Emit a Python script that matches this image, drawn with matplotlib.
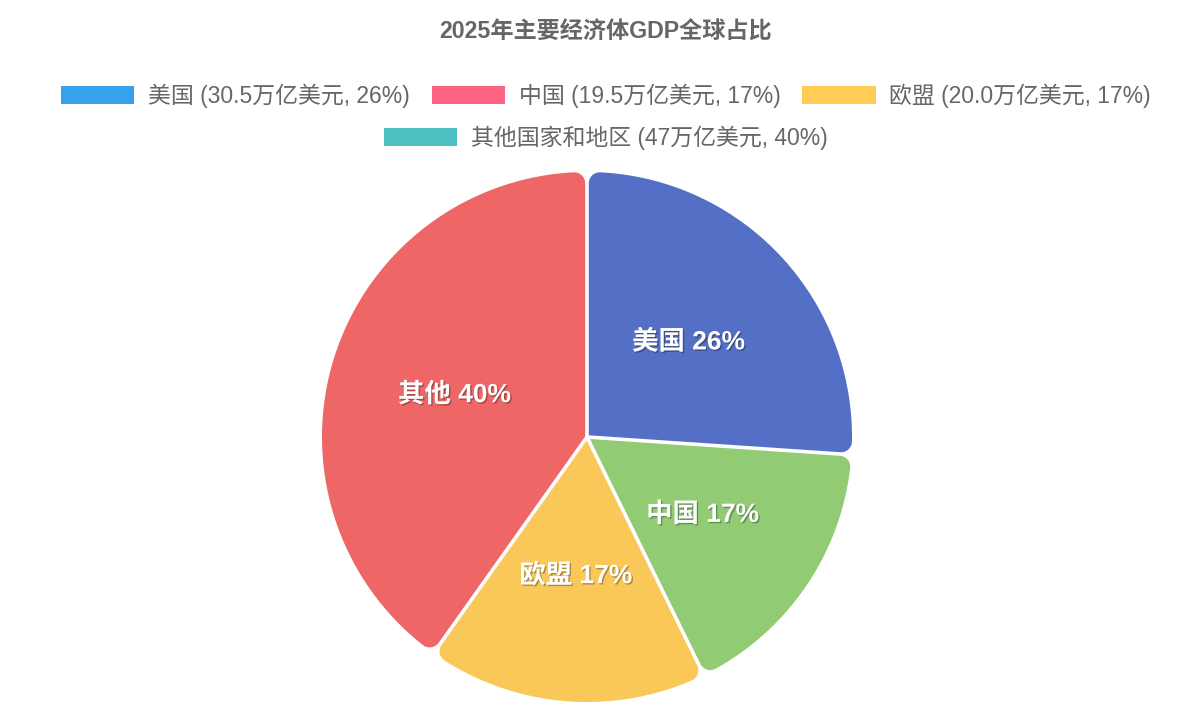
import numpy as np
import matplotlib
matplotlib.use("Agg")
import matplotlib.pyplot as plt
from matplotlib.patches import Polygon, Patch
import matplotlib.patheffects as pe

plt.rcParams['font.family'] = ['Liberation Sans', 'Noto Sans CJK SC', 'DejaVu Sans']

# ---- data ----
title = "2025年主要经济体GDP全球占比"
names = ["美国", "中国", "欧盟", "其他国家和地区"]
short_names = ["美国", "中国", "欧盟", "其他"]
values = [30.5, 19.5, 20.0, 47]          # 万亿美元
legend_pcts = [26, 17, 17, 40]
slice_colors = ["#5470c6", "#91cc75", "#fac858", "#ee6666"]
legend_colors = ["#36a2eb", "#ff6384", "#ffcd56", "#4bc0c0"]
legend_labels = ["美国 (30.5万亿美元, 26%)", "中国 (19.5万亿美元, 17%)",
                 "欧盟 (20.0万亿美元, 17%)", "其他国家和地区 (47万亿美元, 40%)"]

W, H = 1200, 704
fig = plt.figure(figsize=(W / 100, H / 100), dpi=100)
ax = fig.add_axes([0, 0, 1, 1])
ax.set_xlim(0, W)
ax.set_ylim(0, H)
ax.set_aspect('equal')
ax.axis('off')

C = np.array([587.0, 704 - 437.0])
R = 265.0
h = 1.8     # half gap
k = 11.0    # corner radius


def rounded_wedge(t1, t2):
    """t1 < t2 in radians (ccw)."""
    phi = t2 - t1
    mid = (t1 + t2) / 2
    apex = np.array([np.cos(mid), np.sin(mid)]) * h / np.sin(phi / 2)
    t = np.sqrt((R - k) ** 2 - (h + k) ** 2)
    u1 = np.array([np.cos(t1), np.sin(t1)]); n1 = np.array([-np.sin(t1), np.cos(t1)])
    u2 = np.array([np.cos(t2), np.sin(t2)]); n2 = np.array([np.sin(t2), -np.cos(t2)])
    c1 = t * u1 + (h + k) * n1
    c2 = t * u2 + (h + k) * n2
    d = np.arctan2(h + k, t)
    a1 = t1 + d
    a2 = t2 - d
    pts = [apex, t * u1 + h * n1]
    s = np.linspace(t1 - np.pi / 2, a1, 20)
    pts += list(c1 + k * np.c_[np.cos(s), np.sin(s)])
    s = np.linspace(a1, a2, 200)
    pts += list(R * np.c_[np.cos(s), np.sin(s)])
    s = np.linspace(a2, t2 + np.pi / 2, 20)
    pts += list(c2 + k * np.c_[np.cos(s), np.sin(s)])
    pts.append(t * u2 + h * n2)
    return np.array(pts) + C


total = sum(values)
start = 90.0
shadow = [pe.withSimplePatchShadow(offset=(1, -1), shadow_rgbFace='black', alpha=0.3)]
for v, col, sn, p in zip(values, slice_colors, short_names, legend_pcts):
    sweep = 360.0 * v / total
    t2 = np.radians(start)
    t1 = np.radians(start - sweep)
    ax.add_patch(Polygon(rounded_wedge(t1, t2), closed=True, facecolor=col,
                         edgecolor='none'))
    mid = (t1 + t2) / 2
    lx, ly = C + 0.525 * R * np.array([np.cos(mid), np.sin(mid)])
    ax.text(lx, ly, f"{sn} {p}%", ha='center', va='center', color='white',
            fontsize=19, fontweight='bold', path_effects=shadow)
    start -= sweep

fig.text(606 / W, 1 - 32 / H, title, ha='center', va='center', fontsize=16.7,
         fontweight='bold', color='#666666')

handles = [Patch(facecolor=c, edgecolor='none') for c in legend_colors]
common = dict(frameon=False, fontsize=16.5, handlelength=3.2, handleheight=0.85,
              handletextpad=0.6, columnspacing=0.95, labelcolor='#666666',
              borderpad=0, borderaxespad=0)
fig.legend(handles[:3], legend_labels[:3], loc='center', ncol=3,
           bbox_to_anchor=(606 / W, 1 - 96 / H), **common)
fig.legend(handles[3:], legend_labels[3:], loc='center', ncol=1,
           bbox_to_anchor=(606 / W, 1 - 138 / H), **common)

fig.savefig("out.png", dpi=100, facecolor='white')
